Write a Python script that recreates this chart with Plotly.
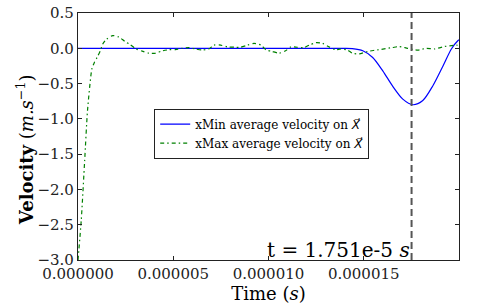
import numpy as np
import plotly.graph_objects as go

# Time in microseconds
t_min_us = [0, 14.0, 14.4, 14.95, 15.47, 16.0, 16.5, 17.05, 17.58, 18.1, 18.63, 19.16, 19.6, 19.95, 20.0]
v_min = [0, 0, -0.005, -0.035, -0.13, -0.32, -0.53, -0.72, -0.80, -0.74, -0.53, -0.25, -0.01, 0.11, 0.12]

t_max_us = [0, 0.17, 0.35, 0.5, 0.73, 0.86, 1.0, 1.17, 1.3, 1.5, 1.82, 2.14, 2.45, 2.75, 3.05, 3.37,
            3.72, 4.07, 4.38, 4.77, 5.12, 5.47, 5.82, 6.17, 6.53, 6.87, 7.14, 7.49, 7.84, 8.2, 8.54,
            8.9, 9.24, 9.6, 9.86, 10.2, 10.56, 10.9, 11.17, 11.5, 11.84, 12.14, 12.5, 12.84, 13.14,
            13.5, 13.8, 14.15, 14.4, 14.77, 15.2, 15.8, 16.5, 16.86, 17.3, 17.84, 18.28, 18.7, 19.24,
            19.86, 20.0]
v_max = [-3.0, -2.44, -1.59, -0.88, -0.29, -0.2, -0.13, -0.035, 0.06, 0.13, 0.18, 0.16, 0.10, 0.05,
         -0.01, -0.04, -0.07, -0.07, -0.04, -0.02, -0.02, 0.0, 0.01, -0.01, -0.025, -0.01, 0.045,
         0.045, 0.02, 0.015, 0.015, 0.045, 0.07, 0.045, -0.02, -0.045, -0.07, -0.035, 0.02, 0.015,
         0.007, 0.045, 0.08, 0.07, 0.025, -0.02, -0.01, -0.025, -0.07, -0.08, -0.045, -0.02, 0.01,
         0.025, 0.0, -0.025, 0.0, -0.01, 0.025, 0.045, 0.04]

t_marker = 1.751e-5
x_ticks = [0, 5e-6, 1e-5, 1.5e-5, 2e-5]
x_ticklabels = ["0.000000", "0.000005", "0.000010", "0.000015", "0.000020"]
y_ticks = [0.5, 0.0, -0.5, -1.0, -1.5, -2.0, -2.5, -3.0]

US = 1e-6
font_family = "'DejaVu Serif', serif"
legend_family = "'DejaVu Serif', 'DejaVu Sans', 'Noto Sans', 'Noto Sans CJK SC', serif"

fig = go.Figure()
fig.add_trace(go.Scatter(
    x=np.array(t_min_us) * US, y=v_min, mode="lines",
    line=dict(color="#0000ff", width=1.2, shape="spline", smoothing=0.8),
    name="xMin average velocity on <i>X\u20d7</i>"))
fig.add_trace(go.Scatter(
    x=np.array(t_max_us) * US, y=v_max, mode="lines",
    line=dict(color="#008000", width=1.2, dash="4px,3px,1.5px,3px", shape="spline", smoothing=0.6),
    name="xMax average velocity on <i>X\u20d7</i>"))
fig.add_trace(go.Scatter(
    x=[t_marker, t_marker], y=[y_ticks[-1], y_ticks[0]], mode="lines",
    line=dict(color="#555555", width=2, dash="7px,4px"), showlegend=False, hoverinfo="skip"))

fig.add_annotation(x=t_marker, y=y_ticks[-1], xref="x", yref="y",
                   text="t = 1.751e-5 <i>s</i>", showarrow=False,
                   xanchor="right", yanchor="bottom", yshift=-4,
                   font=dict(family=font_family, size=20, color="black"))

# y-axis title as rotated annotation
fig.add_annotation(x=-0.139, y=0.445, xref="paper", yref="paper",
                   text="<b>Velocity</b> (<i>m.s</i><sup>\u22121</sup>)", showarrow=False,
                   textangle=-90, xanchor="center", yanchor="middle",
                   font=dict(family=font_family, size=18, color="black"))

axis_common = dict(showline=True, linecolor="#222222", linewidth=1.3, mirror="ticks",
                   ticks="inside", ticklen=4, tickcolor="#222222", showgrid=False, zeroline=False,
                   automargin=False,
                   tickfont=dict(family=font_family, size=15, color="#222222"))

fig.update_xaxes(range=[0, 2e-5], tickvals=x_ticks, ticktext=x_ticklabels,
                 title=dict(text="Time (<i>s</i>)", font=dict(family=font_family, size=18, color="black")),
                 **axis_common)
fig.update_yaxes(range=[-3.0, 0.5], tickvals=y_ticks, tickformat=".1f", **axis_common)

fig.update_layout(
    width=493, height=304,
    margin=dict(l=78, r=34, t=13, b=44, autoexpand=False),
    plot_bgcolor="white", paper_bgcolor="white",
    legend=dict(x=0.2, y=0.613, xanchor="left", yanchor="top",
                bordercolor="#222222", borderwidth=1, bgcolor="white",
                font=dict(family=legend_family, size=12, color="black"),
                tracegroupgap=0, itemwidth=30),
    font=dict(family=font_family),
)

fig.write_html("out.html", config={"displayModeBar": False},
               post_script="document.body.style.margin='0';document.body.style.padding='0';")
